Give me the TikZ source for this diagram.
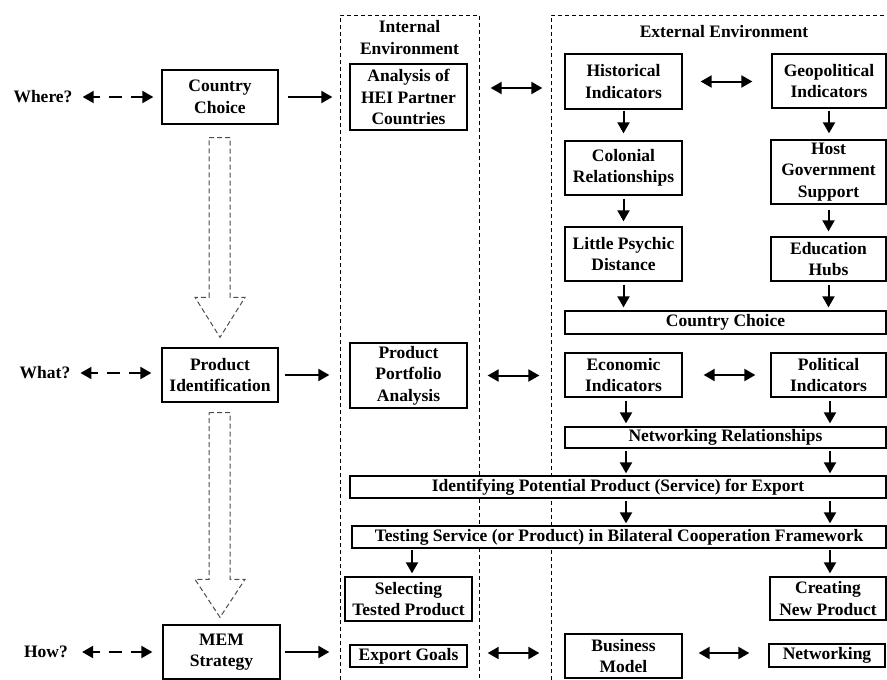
\documentclass[tikz,border=0pt]{standalone}
\usepackage{fontspec}
\setmainfont{Liberation Serif}
\usetikzlibrary{arrows.meta,calc}
\begin{document}
\begin{tikzpicture}[x=1pt,y=-1pt,
 txt/.style={inner sep=0pt,align=center,font=\fontsize{17.5}{21.5}\selectfont\bfseries},
 box/.style={txt,draw,fill=white,line width=1.3pt},
 tip/.tip={Triangle[length=11pt,width=12pt]},
 arr/.style={line width=2pt,-tip},
 dbl/.style={line width=2pt,tip-tip},
 ddbl/.style={dbl,dash pattern=on 7pt off 9pt on 13pt off 9pt on 30pt},
 env/.style={line width=1pt,dash pattern=on 4pt off 3pt},
 bigarr/.style={draw=black!70,line width=1pt,dash pattern=on 5pt off 3pt,line join=miter}]
\useasboundingbox (0,0) rectangle (887,680);
% environments
\draw[env] (340,680) -- (340,15) -- (479,15) -- (479,680);
\draw[env] (551,680) -- (551,15) -- (887,15);
\node[txt] (intt) at (409.5,37.5) {Internal\\Environment};
\node[txt] (extt) at (724,32) {External Environment};
% left labels
\node[txt] (where) at (43,97) {Where?};
\node[txt] (what) at (45,373) {What?};
\node[txt] (how) at (46,652) {How?};
% left boxes
\node[box,minimum width=116pt,minimum height=54pt] (cc) at (220,97) {Country\\Choice};
\node[box,minimum width=116pt,minimum height=54pt] (pi) at (220,375) {Product\\Identification};
\node[box,minimum width=117pt,minimum height=54pt] (mem) at (221.5,652) {MEM\\Strategy};
% internal
\node[box,minimum width=117pt,minimum height=66pt] (ana) at (408.5,97) {Analysis of\\HEI Partner\\Countries};
\node[box,minimum width=117pt,minimum height=65pt] (ppa) at (408.5,375.5) {Product\\Portfolio\\Analysis};
\node[box,minimum width=127pt,minimum height=44pt] (sel) at (408.5,599) {Selecting\\Tested Product};
\node[box,minimum width=117pt,minimum height=22pt] (eg) at (408.5,656) {Export Goals};
% external
\node[box,minimum width=117pt,minimum height=55pt] (hist) at (623.5,81.5) {Historical\\Indicators};
\node[box,minimum width=114pt,minimum height=54pt] (geo) at (829,81) {Geopolitical\\Indicators};
\node[box,minimum width=117pt,minimum height=54pt] (col) at (623.5,168) {Colonial\\Relationships};
\node[box,minimum width=115pt,minimum height=64pt] (host) at (828.5,172) {Host\\Government\\Support};
\node[box,minimum width=117pt,minimum height=54pt] (lpd) at (623.5,254) {Little Psychic\\Distance};
\node[box,minimum width=115pt,minimum height=44pt] (edu) at (828.5,259) {Education\\Hubs};
\node[box,minimum width=321pt,minimum height=23pt] (cc2) at (725.5,322.5) {Country Choice};
\node[box,minimum width=117pt,minimum height=44pt] (econ) at (623.5,375) {Economic\\Indicators};
\node[box,minimum width=115pt,minimum height=44pt] (pol) at (828.5,375) {Political\\Indicators};
\node[box,minimum width=321pt,minimum height=21pt] (netrel) at (725.5,437.5) {Networking Relationships};
\node[box,minimum width=536pt,minimum height=22pt] (ident) at (618,487) {Identifying Potential Product (Service) for Export};
\node[box,minimum width=534pt,minimum height=22pt] (test) at (619,537) {Testing Service (or Product) in Bilateral Cooperation Framework};
\node[box,minimum width=116pt,minimum height=43pt] (cnp) at (828,598.5) {Creating\\New Product};
\node[box,minimum width=117pt,minimum height=44pt] (bm) at (623.5,656) {Business\\Model};
\node[box,minimum width=116pt,minimum height=23pt] (nw) at (827,655.5) {Networking};
% dashed double arrows
\draw[ddbl,shorten <=10pt,shorten >=8pt] (where.east) -- (where.east -| cc.west);
\draw[ddbl,shorten <=10pt,shorten >=10pt] (what.east) -- (what.east -| pi.west);
\draw[ddbl,shorten <=14pt,shorten >=10pt] (how.east) -- (how.east -| mem.west);
% solid arrows left
\draw[arr,shorten <=9pt,shorten >=17pt] (cc.east) -- (cc.east -| ana.west);
\draw[arr,shorten <=6pt,shorten >=20pt] (pi.east) -- (pi.east -| ppa.west);
\draw[arr,shorten <=4pt,shorten >=20pt] (mem.east) -- (mem.east -| eg.west);
% double arrows
\draw[dbl,shorten <=23pt,shorten >=22pt] ([yshift=9pt]ana.east) -- ([yshift=-6.5pt]hist.west);
\draw[dbl,shorten <=18pt,shorten >=19pt] (hist.east) -- (hist.east -| geo.west);
\draw[dbl,shorten <=20pt,shorten >=25pt] (ppa.east) -- (ppa.east -| econ.west);
\draw[dbl,shorten <=21pt,shorten >=15pt] (econ.east) -- (econ.east -| pol.west);
\draw[dbl,shorten <=20pt,shorten >=25pt] ([yshift=3pt]eg.east) -- ([yshift=3pt]eg.east -| bm.west);
\draw[dbl,shorten <=16pt,shorten >=19pt] ([yshift=3pt]bm.east) -- ([yshift=3pt]bm.east -| nw.west);
% vertical arrows
\draw[arr,shorten <=1pt,shorten >=7pt] (hist.south) -- (col.north);
\draw[arr,shorten <=2pt,shorten >=6pt] (geo.south) -- (geo.south |- host.north);
\draw[arr,shorten <=3pt,shorten >=5pt] (col.south) -- (lpd.north);
\draw[arr,shorten <=5pt,shorten >=5pt] (host.south) -- (edu.north);
\draw[arr,shorten <=3pt,shorten >=3pt] (lpd.south) -- (lpd.south |- cc2.north);
\draw[arr,shorten <=3pt,shorten >=3pt] (edu.south) -- (edu.south |- cc2.north);
\draw[arr,shorten <=3pt,shorten >=3pt] ([xshift=2.5pt]econ.south) -- ([xshift=2.5pt]econ.south |- netrel.north);
\draw[arr,shorten <=3pt,shorten >=3pt] ([xshift=1.5pt]pol.south) -- ([xshift=1.5pt]pol.south |- netrel.north);
\draw[arr,shorten <=2pt,shorten >=2pt] ([xshift=2.5pt]econ.south |- netrel.south) -- ([xshift=2.5pt]econ.south |- ident.north);
\draw[arr,shorten <=2pt,shorten >=2pt] ([xshift=1.5pt]pol.south |- netrel.south) -- ([xshift=1.5pt]pol.south |- ident.north);
\draw[arr,shorten <=2pt,shorten >=2pt] ([xshift=2.5pt]econ.south |- ident.south) -- ([xshift=2.5pt]econ.south |- test.north);
\draw[arr,shorten <=2pt,shorten >=2pt] ([xshift=1.5pt]pol.south |- ident.south) -- ([xshift=1.5pt]pol.south |- test.north);
\draw[arr,shorten <=1pt,shorten >=3pt] ([xshift=3.5pt]sel.north |- test.south) -- ([xshift=3.5pt]sel.north);
\draw[arr,shorten <=1pt,shorten >=3pt] ([xshift=2pt]cnp.north |- test.south) -- ([xshift=2pt]cnp.north);
% big dashed arrows
\draw[bigarr] ([xshift=-11pt,yshift=-13pt]cc.south) -- ([xshift=10pt,yshift=-13pt]cc.south)
  -- ([xshift=10pt,yshift=50pt]pi.north) -- ([xshift=25pt,yshift=50pt]pi.north)
  -- ([yshift=10pt]pi.north) -- ([xshift=-25pt,yshift=50pt]pi.north)
  -- ([xshift=-11pt,yshift=50pt]pi.north) -- cycle;
\draw[bigarr] ([xshift=-11pt,yshift=-10pt]pi.south) -- ([xshift=10pt,yshift=-10pt]pi.south)
  -- ([xshift=8.5pt,yshift=45pt]mem.north) -- ([xshift=23.5pt,yshift=45pt]mem.north)
  -- ([xshift=-1.5pt,yshift=7pt]mem.north) -- ([xshift=-26.5pt,yshift=45pt]mem.north)
  -- ([xshift=-12.5pt,yshift=45pt]mem.north) -- cycle;
\end{tikzpicture}
\end{document}
